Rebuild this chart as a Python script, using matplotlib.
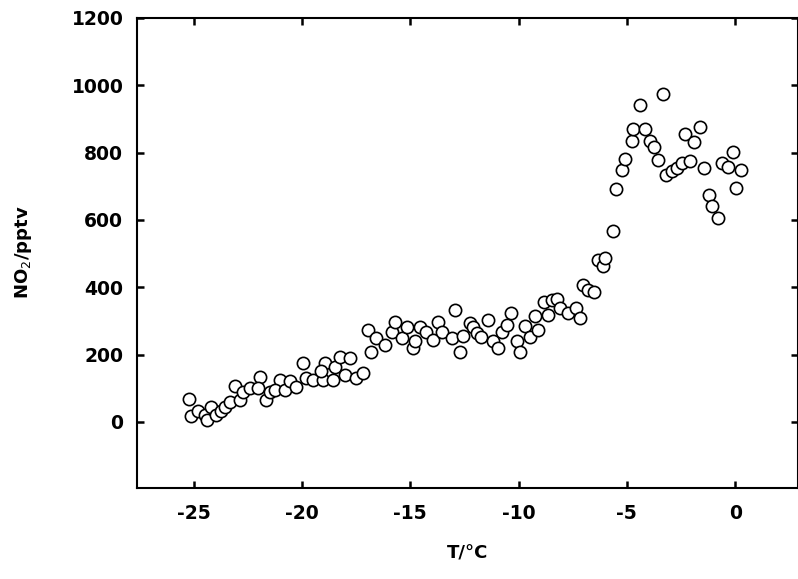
import matplotlib.pyplot as plt

# temperature (deg C) and NO2 (pptv)
temp = [
    -25.22, -25.11, -24.80, -24.49, -24.38, -24.18, -23.95, -23.72, -23.57, -23.34,
    -23.11, -22.87, -22.72, -22.41, -21.95, -22.03, -21.64, -21.49, -21.03, -21.26,
    -20.79, -20.56, -20.25, -19.95, -19.79, -19.49, -19.03, -18.95, -19.10, -18.56,
    -18.48, -18.25, -18.02, -17.79, -17.48, -17.18, -16.95, -16.79, -16.56, -16.17,
    -15.86, -15.71, -15.40, -15.17, -14.87, -14.79, -14.56, -14.25, -13.94, -13.71,
    -13.55, -13.09, -12.94, -12.71, -12.56, -12.25, -12.09, -11.94, -11.71, -11.40,
    -11.17, -10.94, -10.78, -10.55, -10.35, -10.09, -9.94, -9.70, -9.47, -9.24,
    -9.09, -8.83, -8.63, -8.47, -8.24, -8.09, -7.70, -7.35, -7.16, -7.01,
    -6.78, -6.52, -6.32, -6.09, -6.01, -5.62, -5.50, -5.24, -5.08, -4.77,
    -4.70, -4.39, -4.16, -3.93, -3.74, -3.54, -3.34, -3.19, -2.93, -2.69,
    -2.46, -2.31, -2.08, -1.88, -1.62, -1.43, -1.20, -1.05, -0.77, -0.61,
    -0.31, -0.12, 0.05, 0.26,
]
no2 = [
    68, 16, 31, 21, 6, 44, 21, 31, 45, 60,
    107, 65, 90, 100, 133, 100, 65, 90, 125, 95,
    95, 120, 105, 174, 130, 125, 125, 174, 150, 125,
    164, 194, 140, 189, 130, 145, 273, 209, 249, 229,
    268, 298, 249, 283, 219, 239, 283, 268, 244, 298,
    268, 249, 333, 209, 254, 293, 283, 264, 253, 303,
    239, 219, 267, 288, 323, 239, 207, 285, 253, 315,
    273, 357, 318, 363, 365, 338, 323, 338, 308, 407,
    392, 387, 481, 462, 486, 568, 692, 749, 781, 835,
    870, 940, 870, 833, 818, 777, 974, 734, 744, 754,
    769, 856, 774, 830, 875, 754, 675, 642, 605, 769,
    757, 803, 694, 747,
]

plt.rcParams['font.family'] = ['DejaVu Sans']
plt.rcParams['axes.unicode_minus'] = False

fig = plt.figure(figsize=(7.98, 5.79), dpi=100)
ax = fig.add_axes([0.172, 0.158, 0.828, 0.811])

ax.scatter(temp, no2, s=78, facecolors='white', edgecolors='black', linewidths=1.2, zorder=3)

ax.set_xlim(-27.6, 2.9)
ax.set_ylim(-195, 1200)
ax.set_xticks([-25, -20, -15, -10, -5, 0])
ax.set_yticks([0, 200, 400, 600, 800, 1000, 1200])

ax.tick_params(axis='both', direction='in', length=5, width=1.8,
               top=True, right=True, labelsize=13.5)
ax.tick_params(axis='x', pad=12)
ax.tick_params(axis='y', pad=10)
for lab in ax.get_xticklabels() + ax.get_yticklabels():
    lab.set_fontweight('heavy')
for sp in ax.spines.values():
    sp.set_linewidth(1.5)

ax.set_xlabel('T/°C', fontsize=13, fontweight='bold', labelpad=15)
ax.set_ylabel('NO$_2$/pptv', fontsize=13, fontweight='bold', labelpad=27)

fig.savefig('out.png', dpi=100)
